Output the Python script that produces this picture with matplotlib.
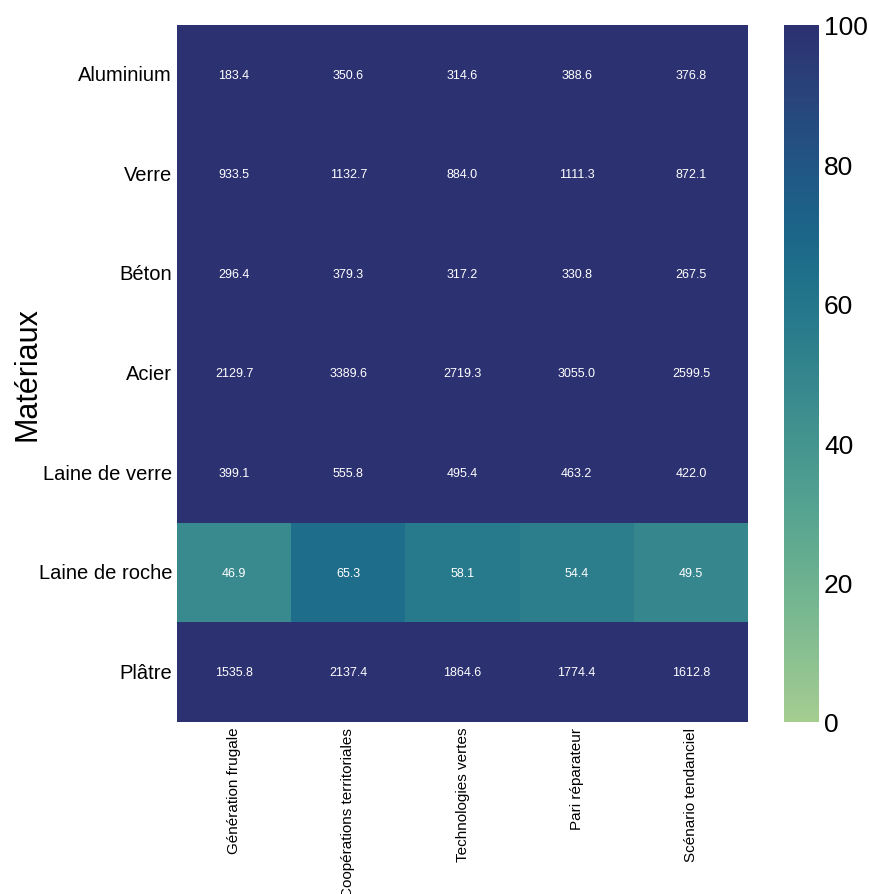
import numpy as np
import pandas as pd
import matplotlib
matplotlib.use('Agg')
import matplotlib.pyplot as plt
import seaborn as sns

materiaux = ['Aluminium', 'Verre', 'Béton', 'Acier', 'Laine de verre', 'Laine de roche', 'Plâtre']
scenarios = ['Génération frugale', 'Coopérations territoriales', 'Technologies vertes',
             'Pari réparateur', 'Scénario tendanciel']

aluminium = [183.4, 350.6, 314.6, 388.6, 376.8]
verre = [933.5, 1132.7, 884.0, 1111.3, 872.1]
beton = [296.4, 379.3, 317.2, 330.8, 267.5]
acier = [2129.7, 3389.6, 2719.3, 3055.0, 2599.5]
laine_verre = [399.1, 555.8, 495.4, 463.2, 422.0]
laine_roche = [46.9, 65.3, 58.1, 54.4, 49.5]
platre = [1535.8, 2137.4, 1864.6, 1774.4, 1612.8]

df = pd.DataFrame([aluminium, verre, beton, acier, laine_verre, laine_roche, platre],
                  index=materiaux, columns=scenarios)

plt.rcParams['font.family'] = ['Liberation Sans', 'DejaVu Sans']

fig = plt.figure(figsize=(8.69, 8.95), dpi=100)
ax = fig.add_axes([0.2037, 0.1922, 0.6571, 0.7788])
cax = fig.add_axes([0.9022, 0.1922, 0.0403, 0.7788])

sns.heatmap(df, ax=ax, cbar_ax=cax, cmap='crest', vmin=0, vmax=100,
            annot=True, fmt='.1f', annot_kws={'fontsize': 9, 'color': 'white'})

ax.set_ylabel('Matériaux', fontsize=22)
ax.yaxis.set_label_coords(-0.235, 0.5)
ax.set_xlabel('')
ax.tick_params(axis='y', labelsize=14.5, length=0, rotation=0)
ax.tick_params(axis='x', labelsize=11, length=0, rotation=90)
cax.tick_params(labelsize=19, length=0)
cax.set_yticks([0, 20, 40, 60, 80, 100])
for s in cax.spines.values():
    s.set_visible(False)

fig.savefig('out.png', dpi=100)
